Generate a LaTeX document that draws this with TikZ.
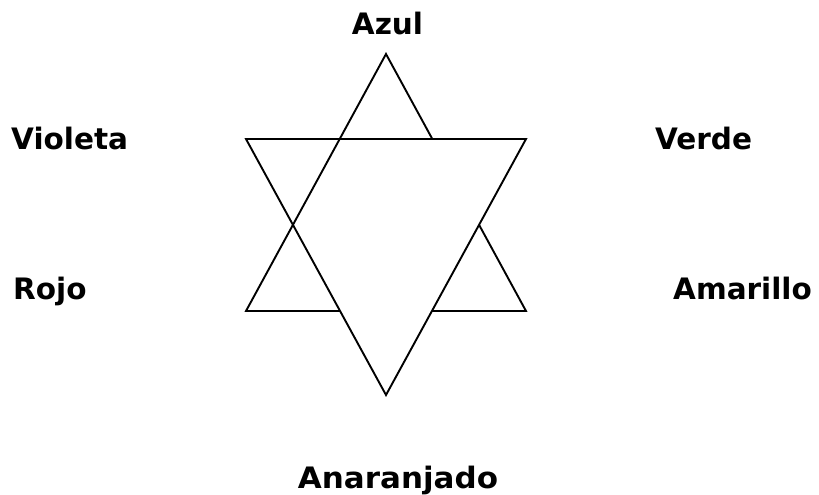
\documentclass[tikz,border=0pt]{standalone}
\usepackage{fontspec}
\setmainfont{DejaVu Sans}
\begin{document}
\begin{tikzpicture}[x=1pt,y=-1pt,
  lbl/.style={font=\fontsize{29.5}{34}\selectfont\bfseries, inner sep=0pt},
  edge/.style={line width=1.9pt, black}]
\useasboundingbox (0,0) rectangle (819,495);
% star vertices
\coordinate (A)  at (386,54);
\coordinate (BL) at (246,311);
\coordinate (BR) at (526,311);
\coordinate (TL) at (246,139);
\coordinate (TR) at (526,139);
\coordinate (B)  at (386,395);
\coordinate (P1) at (intersection of A--BR and TL--TR);
\coordinate (P2) at (intersection of A--BR and TR--B);
\coordinate (P3) at (intersection of BL--BR and TL--B);
\coordinate (P4) at (intersection of BL--BR and TR--B);
% downward triangle
\draw[edge] (TL) -- (TR) -- (B) -- cycle;
% visible parts of upward triangle
\draw[edge] (P1) -- (A) -- (BL) -- (P3);
\draw[edge] (P4) -- (BR) -- (P2);
% labels
\node[lbl, anchor=base] (azul) at (387.5,35) {Azul};
\node[lbl, anchor=base west] (violeta) at (11,149) {Violeta};
\node[lbl, anchor=base west] (verde) at (655,149) {Verde};
\node[lbl, anchor=base west] (rojo) at (13,299) {Rojo};
\node[lbl, anchor=base west] (amarillo) at (673,299) {Amarillo};
\node[lbl, anchor=base, xscale=1.05] (anaranjado) at (398,488) {Anaranjado};
\end{tikzpicture}
\end{document}
